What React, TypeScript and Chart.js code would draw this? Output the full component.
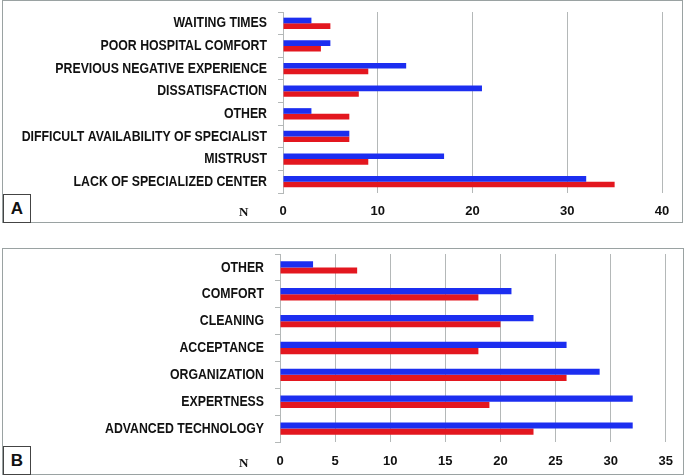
import React, { useEffect, useRef } from 'react';
import { Chart, registerables } from 'chart.js';

Chart.register(...registerables);

// Panel A
const categoriesA = [
  'WAITING TIMES',
  'POOR HOSPITAL COMFORT',
  'PREVIOUS NEGATIVE EXPERIENCE',
  'DISSATISFACTION',
  'OTHER',
  'DIFFICULT AVAILABILITY OF SPECIALIST',
  'MISTRUST',
  'LACK OF SPECIALIZED CENTER',
];
const blueA = [3, 5, 13, 21, 3, 7, 17, 32];
const redA = [5, 4, 9, 8, 7, 7, 9, 35];
const maxA = 40;
const stepA = 10;

// Panel B
const categoriesB = [
  'OTHER',
  'COMFORT',
  'CLEANING',
  'ACCEPTANCE',
  'ORGANIZATION',
  'EXPERTNESS',
  'ADVANCED TECHNOLOGY',
];
const blueB = [3, 21, 23, 26, 29, 32, 32];
const redB = [7, 18, 20, 18, 26, 19, 23];
const maxB = 35;
const stepB = 5;

const BLUE = '#1c2ef0';
const RED = '#e3171f';
const GRID = '#b4b8b8';

// Draws the y-axis category labels in a narrow (horizontally condensed) bold face,
// at the positions given by the chart's own category scale.
const narrowLabels = {
  id: 'narrowLabels',
  afterDraw(chart: any) {
    const s = chart.scales.y;
    const ctx = chart.ctx as CanvasRenderingContext2D;
    ctx.save();
    ctx.font = "bold 15px 'Liberation Sans', Arial, sans-serif";
    ctx.fillStyle = '#111';
    ctx.textAlign = 'right';
    ctx.textBaseline = 'middle';
    const x = s.right - 5 - 11;
    s.ticks.forEach((_t: any, i: number) => {
      const y = s.getPixelForTick(i);
      ctx.save();
      ctx.translate(x, y);
      ctx.scale(0.82, 1);
      ctx.fillText(String(chart.data.labels[i]), 0, 0);
      ctx.restore();
    });
    ctx.restore();
  },
};

function makeConfig(
  labels: string[],
  blue: number[],
  red: number[],
  max: number,
  step: number,
  axisLeft: number,
  pad: { top: number; right: number },
  xHeight: number,
  tickPad: number,
  catPct: number
): any {
  return {
    type: 'bar',
    data: {
      labels,
      datasets: [
        { data: blue, backgroundColor: BLUE, borderWidth: 0 },
        { data: red, backgroundColor: RED, borderWidth: 0 },
      ],
    },
    plugins: [narrowLabels],
    options: {
      indexAxis: 'y',
      responsive: false,
      animation: false,
      layout: { padding: { top: pad.top, right: pad.right, left: 0, bottom: 0 } },
      plugins: { legend: { display: false }, tooltip: { enabled: false }, title: { display: false } },
      datasets: { bar: { categoryPercentage: catPct, barPercentage: 1 } },
      scales: {
        x: {
          min: 0,
          max,
          ticks: {
            stepSize: step,
            padding: tickPad,
            color: '#111',
            font: { family: "'Liberation Sans', Arial, sans-serif", weight: 'bold', size: 13 },
          },
          grid: { color: GRID, lineWidth: 1, drawTicks: false },
          border: { display: false },
          afterFit: (s: any) => {
            s.height = xHeight;
          },
        },
        y: {
          ticks: { display: false, autoSkip: false },
          grid: { offset: true, drawOnChartArea: false, drawTicks: true, tickLength: 5, color: GRID },
          border: { display: true, color: GRID },
          afterFit: (s: any) => {
            s.width = axisLeft;
          },
        },
      },
    },
  };
}

function Panel(props: { top: number; height: number; config: any }) {
  const ref = useRef<HTMLCanvasElement | null>(null);
  useEffect(() => {
    if (!ref.current) return;
    const chart = new Chart(ref.current, props.config);
    return () => chart.destroy();
  }, []);
  return (
    <canvas
      ref={ref}
      width={685}
      height={props.height}
      style={{ position: 'absolute', left: 0, top: props.top, width: 685, height: props.height }}
    />
  );
}

const configA = makeConfig(categoriesA, blueA, redA, maxA, stepA, 283, { top: 32, right: 23 }, 32, 11, 0.5);
const configB = makeConfig(categoriesB, blueB, redB, maxB, stepB, 280, { top: 29, right: 17 }, 33, 12, 0.46);

export default function App() {
  useEffect(() => {
    document.body.style.margin = '0';
    document.body.style.background = '#fff';
  }, []);
  const frame = (left: number, top: number, w: number, h: number): React.CSSProperties => ({
    position: 'absolute',
    left,
    top,
    width: w,
    height: h,
    border: '1px solid #9aa2a2',
    boxSizing: 'border-box',
    pointerEvents: 'none',
  });
  const letterBox = (top: number): React.CSSProperties => ({
    position: 'absolute',
    left: 3,
    top,
    width: 28,
    height: 29,
    border: '1px solid #444',
    boxSizing: 'border-box',
    background: '#fff',
    font: "bold 17px 'Liberation Sans', Arial, sans-serif",
    color: '#111',
    display: 'flex',
    alignItems: 'center',
    justifyContent: 'center',
  });
  const nStyle = (top: number): React.CSSProperties => ({
    position: 'absolute',
    left: 239,
    top,
    font: "bold 13px 'Liberation Serif', 'Times New Roman', serif",
    color: '#111',
    lineHeight: '14px',
  });
  return (
    <div style={{ position: 'relative', width: 685, height: 475, overflow: 'hidden', background: '#fff' }}>
      <Panel top={-20} height={245} config={configA} />
      <Panel top={225} height={250} config={configB} />
      <div style={frame(2, 0, 681, 223)} />
      <div style={frame(2, 248, 682, 227)} />
      <div style={letterBox(194)}>A</div>
      <div style={letterBox(446)}>B</div>
      <div style={nStyle(205)}>N</div>
      <div style={nStyle(456)}>N</div>
    </div>
  );
}
